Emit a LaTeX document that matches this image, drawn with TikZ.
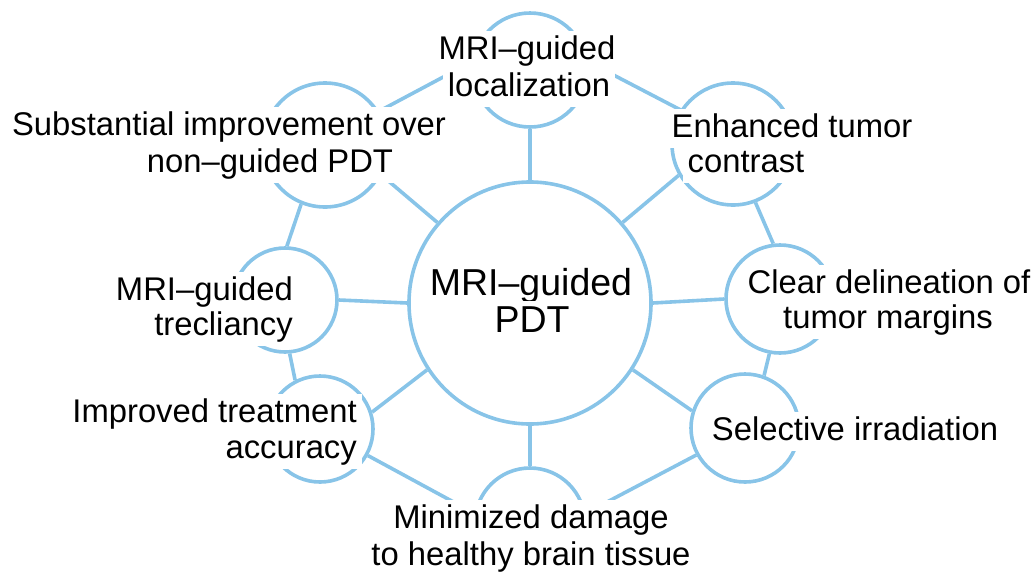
\documentclass[tikz,border=0pt]{standalone}
\usepackage{fontspec}
\setmainfont{Liberation Sans}
\definecolor{ringblue}{HTML}{88C4E8}
\begin{document}
\begin{tikzpicture}[x=1pt,y=-1pt,
  ringc/.style={circle, draw=ringblue, line width=3.6pt, inner sep=0pt},
  link/.style={draw=ringblue, line width=3.6pt},
  txt/.style={fill=white, inner xsep=5pt, inner ysep=3pt, text height=25pt, text depth=8pt,
    font=\fontsize{32.8}{37}\selectfont, anchor=base},
  bigtxt/.style={txt, font=\fontsize{37.5}{42}\selectfont, text height=28pt, text depth=9pt}]
\useasboundingbox (0,0) rectangle (1035,571);
% circles
\node[ringc, minimum size=242pt] (ctr) at (530,303) {};
\node[ringc, minimum size=114pt] (top) at (530,70) {};
\node[ringc, minimum size=124pt] (tl) at (325,145) {};
\node[ringc, minimum size=122pt] (ur) at (733,144) {};
\node[ringc, minimum size=104pt] (lft) at (285,300) {};
\node[ringc, minimum size=108pt] (rgt) at (780,299) {};
\node[ringc, minimum size=106pt] (ll) at (320,429) {};
\node[ringc, minimum size=108pt] (lr) at (745,428) {};
\node[ringc, minimum size=110pt] (bot) at (530,523) {};
% ring connectors
\draw[link] (tl.32) -- (top.172);
\draw[link] (top.8) -- (ur.147);
\draw[link] (ur.291) -- (rgt.97);
\draw[link] (rgt.259) -- (lr.70);
\draw[link] (lr.209) -- (bot.10);
\draw[link] (bot.170) -- (ll.331);
\draw[link] (ll.117) -- (lft.275);
\draw[link] (lft.88) -- (tl.248);
% radial connectors
\draw[link] (ctr.90) -- (top.270);
\draw[link] (ctr.139) -- (tl.332);
\draw[link] (ctr.180) -- (lft.0);
\draw[link] (ctr.213) -- (ll.18);
\draw[link] (ctr.270) -- (bot.90);
\draw[link] (ctr.327) -- (lr.162);
\draw[link] (ctr.0) -- (rgt.180);
\draw[link] (ctr.41) -- (ur.210);
% labels
\node[txt] (topA) at (527,59) {MRI–guided};
\node[txt] (topB) at (529,96) {localization};
\node[txt] (tlA) at (229,135) {Substantial improvement over};
\node[txt] (tlB) at (270,172) {non–guided PDT};
\node[txt] (urA) at (792,137) {Enhanced tumor};
\node[txt] (urB) at (746,172) {contrast};
\node[txt] (rA) at (889,293) {Clear delineation of};
\node[txt] (rB) at (888,328) {tumor margins};
\node[txt] (lrA) at (855,440) {Selective irradiation};
\node[txt] (botA) at (531,528) {Minimized damage};
\node[txt] (botB) at (531,565) {to healthy brain tissue};
\node[txt, anchor=base east] (llA) at (362,422) {Improved treatment};
\node[txt, anchor=base east] (llB) at (362,458) {accuracy};
\node[txt, anchor=base east] (lA) at (298,300) {MRI–guided};
\node[txt, anchor=base east] (lB) at (298,335) {trecliancy};
\node[bigtxt] (cA) at (531,295) {MRI–guided};
\node[bigtxt] (cB) at (532,332) {PDT};
\end{tikzpicture}
\end{document}
